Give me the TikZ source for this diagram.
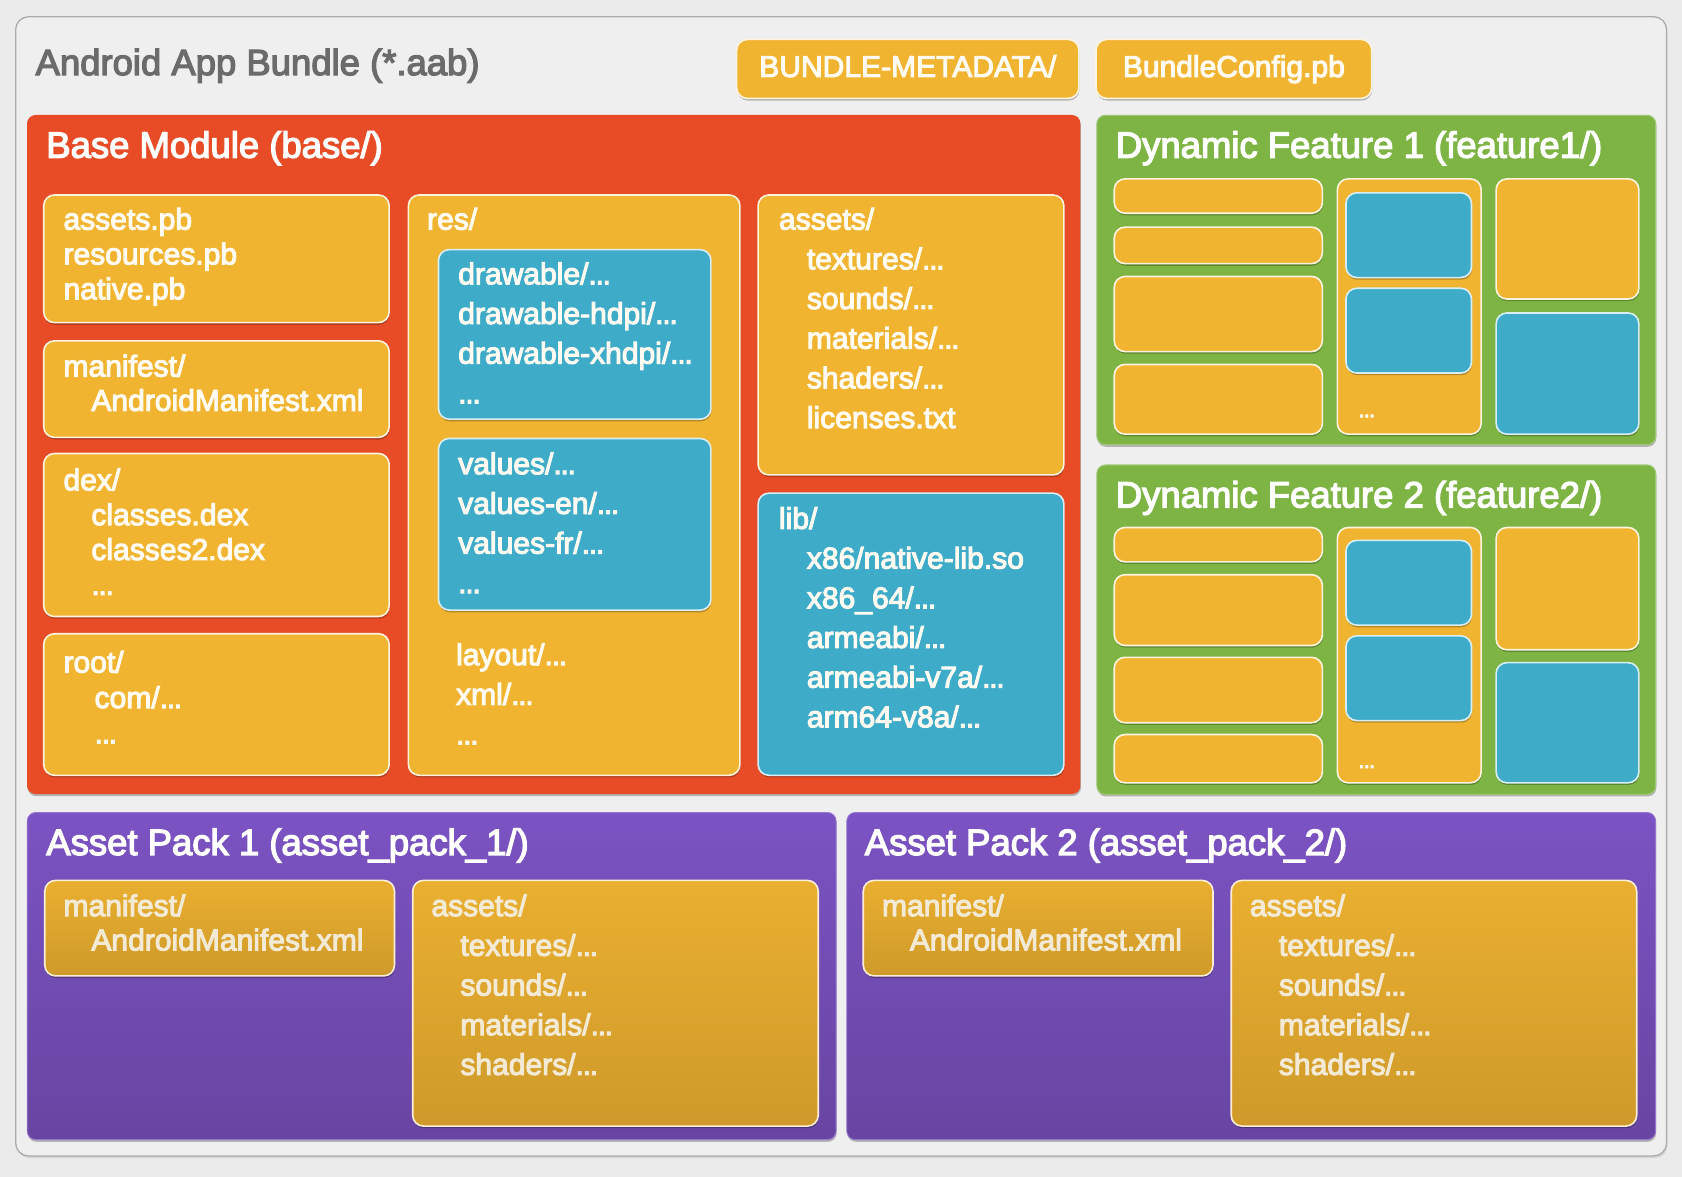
\documentclass[tikz,border=0pt]{standalone}
\usepackage{fontspec}
\setmainfont{Liberation Sans}
\newfontfamily\medium{Liberation Sans}[FakeBold=3.5]
\usetikzlibrary{shadows}
\definecolor{bgpage}{HTML}{EBEBEB}
\definecolor{framefill}{HTML}{EFEFEF}
\definecolor{frameline}{HTML}{ABABAB}
\definecolor{cred}{HTML}{E84C26}
\definecolor{corange}{HTML}{F1B431}
\definecolor{cblue}{HTML}{3EACC8}
\definecolor{cgreen}{HTML}{7DB443}
\definecolor{cpurpleT}{HTML}{7B53C3}
\definecolor{cpurpleB}{HTML}{6845A2}
\definecolor{apT}{HTML}{E9AF30}
\definecolor{apB}{HTML}{CF9A2A}
\definecolor{titlegray}{HTML}{6B6B6B}
\definecolor{txt}{HTML}{FFFBF2}
\definecolor{aptxt}{HTML}{F3EAD6}
\tikzset{
  softshadow/.style={drop shadow={shadow xshift=0.5pt, shadow yshift=-2pt, opacity=0.25, fill=black}},
  framebox/.style={fill=framefill, draw=frameline, line width=1.2pt, rounded corners=12pt, drop shadow={shadow xshift=1pt, shadow yshift=-2pt, opacity=0.2}},
  redmod/.style={fill=cred, rounded corners=8pt, softshadow},
  greenmod/.style={fill=cgreen, draw=cgreen!75!white, line width=1pt, rounded corners=8pt, softshadow},
  purplemod/.style={top color=cpurpleT, bottom color=cpurpleB, draw=cpurpleT!80!white, line width=0.8pt, rounded corners=8pt, softshadow},
  obox/.style={fill=corange, draw=white!85!corange, line width=1.5pt, rounded corners=10pt, softshadow},
  bbox/.style={fill=cblue, draw=white!80!cblue, line width=1.5pt, rounded corners=10pt, softshadow},
  apbox/.style={top color=apT, bottom color=apB, draw=white!80!apT, line width=1.5pt, rounded corners=10pt, softshadow},
  body/.style={inner sep=0pt, text=txt},
  badge/.style={obox, anchor=north west, inner sep=0pt, minimum height=55, text=txt, text height=20pt, text depth=5pt, font=\medium\fontsize{28}{33}\selectfont},
  modtitle/.style={inner sep=0pt, anchor=base west, text=white, font=\medium\fontsize{34}{40}\selectfont},
}
\newcommand\bx[6]{\node[#2, anchor=north west, inner sep=0pt, minimum width={#5-#3}, minimum height={#6-#4}] (#1) at (#3,#4) {};}
\newcommand\tx[6][txt]{\node[body, text=#1, anchor=base west, font=\medium\fontsize{28}{#5}\selectfont] (#2) at (#3,#4) {\begin{tabular}[t]{@{}l@{}}#6\end{tabular}};}
\newcommand\ind{\hspace*{26pt}}
\newcommand\el{.\kern-1.2pt.\kern-1.2pt.}
\begin{document}
\begin{tikzpicture}[x=1pt,y=-1pt]
\path[use as bounding box, fill=bgpage] (0,0) rectangle (1568,1097);
% outer frame
\bx{bundle}{framebox}{14}{15}{1553}{1077}
\node[inner sep=0pt, anchor=base west, text=titlegray, font=\medium\fontsize{34}{40}\selectfont] (bundletitle) at (33,70) {Android App Bundle (*.aab)};
% badges
\node[badge, minimum width=319] (meta) at (686,36) {BUNDLE-METADATA/};
\node[badge, minimum width=257] (config) at (1021,36) {BundleConfig.pb};
% base module
\bx{base}{redmod}{25}{107}{1007}{740}
\node[modtitle] (basetitle) at (43,147) {Base Module (base/)};
\bx{pb}{obox}{40}{181}{362}{300}
\bx{man}{obox}{40}{317}{362}{407}
\bx{dex}{obox}{40}{422}{362}{574}
\bx{root}{obox}{40}{590}{362}{722}
\bx{res}{obox}{380}{181}{689}{722}
\bx{draw}{bbox}{408}{232}{662}{390}
\bx{vals}{bbox}{408}{408}{662}{568}
\bx{assets}{obox}{706}{181}{991}{442}
\bx{lib}{bbox}{706}{459}{991}{722}
\tx{pbt}{59}{214}{32.5}{assets.pb\\resources.pb\\native.pb}
\tx{mant}{59}{351}{32}{manifest/\\\ind AndroidManifest.xml}
\tx{dext}{59}{457}{32.5}{dex/\\\ind classes.dex\\\ind classes2.dex\\\ind \el}
\tx{roott}{59}{627}{33}{root/\\\hspace*{29pt}com/\el\\\hspace*{29pt}\el}
\tx{rest}{398}{214}{37}{res/}
\tx{drawt}{427}{265}{37}{drawable/\el\\drawable-hdpi/\el\\drawable-xhdpi/\el\\\el}
\tx{valst}{427}{442}{37}{values/\el\\values-en/\el\\values-fr/\el\\\el}
\tx{layt}{425}{620}{37}{layout/\el\\xml/\el\\\el}
\tx{assetst}{726}{214}{37}{assets/\\\ind textures/\el\\\ind sounds/\el\\\ind materials/\el\\\ind shaders/\el\\\ind licenses.txt}
\tx{libt}{726}{493}{37}{lib/\\\ind x86/native-lib.so\\\ind x86\_64/\el\\\ind armeabi/\el\\\ind armeabi-v7a/\el\\\ind arm64-v8a/\el}
% dynamic feature 1
\bx{feat1}{greenmod}{1022}{107}{1543}{414}
\node[modtitle] (feat1title) at (1040,147) {Dynamic Feature 1 (feature1/)};
\bx{fa1}{obox}{1038}{166}{1232}{198}
\bx{fa2}{obox}{1038}{211}{1232}{245}
\bx{fa3}{obox}{1038}{257}{1232}{327}
\bx{fa4}{obox}{1038}{339}{1232}{404}
\bx{fb}{obox}{1246}{166}{1380}{404}
\bx{fb1}{bbox}{1254}{179}{1371}{258}
\bx{fb2}{bbox}{1254}{268}{1371}{347}
\node[body, anchor=base west, font=\medium\fontsize{22}{26}\selectfont] (fbdots) at (1266,389) {\el};
\bx{fc1}{obox}{1394}{166}{1527}{278}
\bx{fc2}{bbox}{1394}{291}{1527}{404}
% dynamic feature 2
\bx{feat2}{greenmod}{1022}{433}{1543}{740}
\node[modtitle] (feat2title) at (1040,473) {Dynamic Feature 2 (feature2/)};
\bx{ga1}{obox}{1038}{491}{1232}{523}
\bx{ga2}{obox}{1038}{535}{1232}{601}
\bx{ga3}{obox}{1038}{612}{1232}{673}
\bx{ga4}{obox}{1038}{684}{1232}{729}
\bx{gb}{obox}{1246}{491}{1380}{729}
\bx{gb1}{bbox}{1254}{503}{1371}{582}
\bx{gb2}{bbox}{1254}{592}{1371}{671}
\node[body, anchor=base west, font=\medium\fontsize{22}{26}\selectfont] (gbdots) at (1266,716) {\el};
\bx{gc1}{obox}{1394}{491}{1527}{605}
\bx{gc2}{bbox}{1394}{617}{1527}{729}
% asset pack 1
\bx{ap1}{purplemod}{25}{757}{779}{1062}
\node[modtitle] (ap1title) at (43,797) {Asset Pack 1 (asset\_pack\_1/)};
\bx{ap1man}{apbox}{41}{820}{367}{909}
\bx{ap1as}{apbox}{384}{820}{762}{1049}
\tx[aptxt]{ap1mant}{59}{854}{32}{manifest/\\\ind AndroidManifest.xml}
\tx[aptxt]{ap1ast}{402}{854}{37}{assets/\\\hspace*{27pt}textures/\el\\\hspace*{27pt}sounds/\el\\\hspace*{27pt}materials/\el\\\hspace*{27pt}shaders/\el}
% asset pack 2
\bx{ap2}{purplemod}{789}{757}{1543}{1062}
\node[modtitle] (ap2title) at (806,797) {Asset Pack 2 (asset\_pack\_2/)};
\bx{ap2man}{apbox}{804}{820}{1130}{909}
\bx{ap2as}{apbox}{1147}{820}{1525}{1049}
\tx[aptxt]{ap2mant}{822}{854}{32}{manifest/\\\ind AndroidManifest.xml}
\tx[aptxt]{ap2ast}{1165}{854}{37}{assets/\\\hspace*{27pt}textures/\el\\\hspace*{27pt}sounds/\el\\\hspace*{27pt}materials/\el\\\hspace*{27pt}shaders/\el}
\end{tikzpicture}
\end{document}
